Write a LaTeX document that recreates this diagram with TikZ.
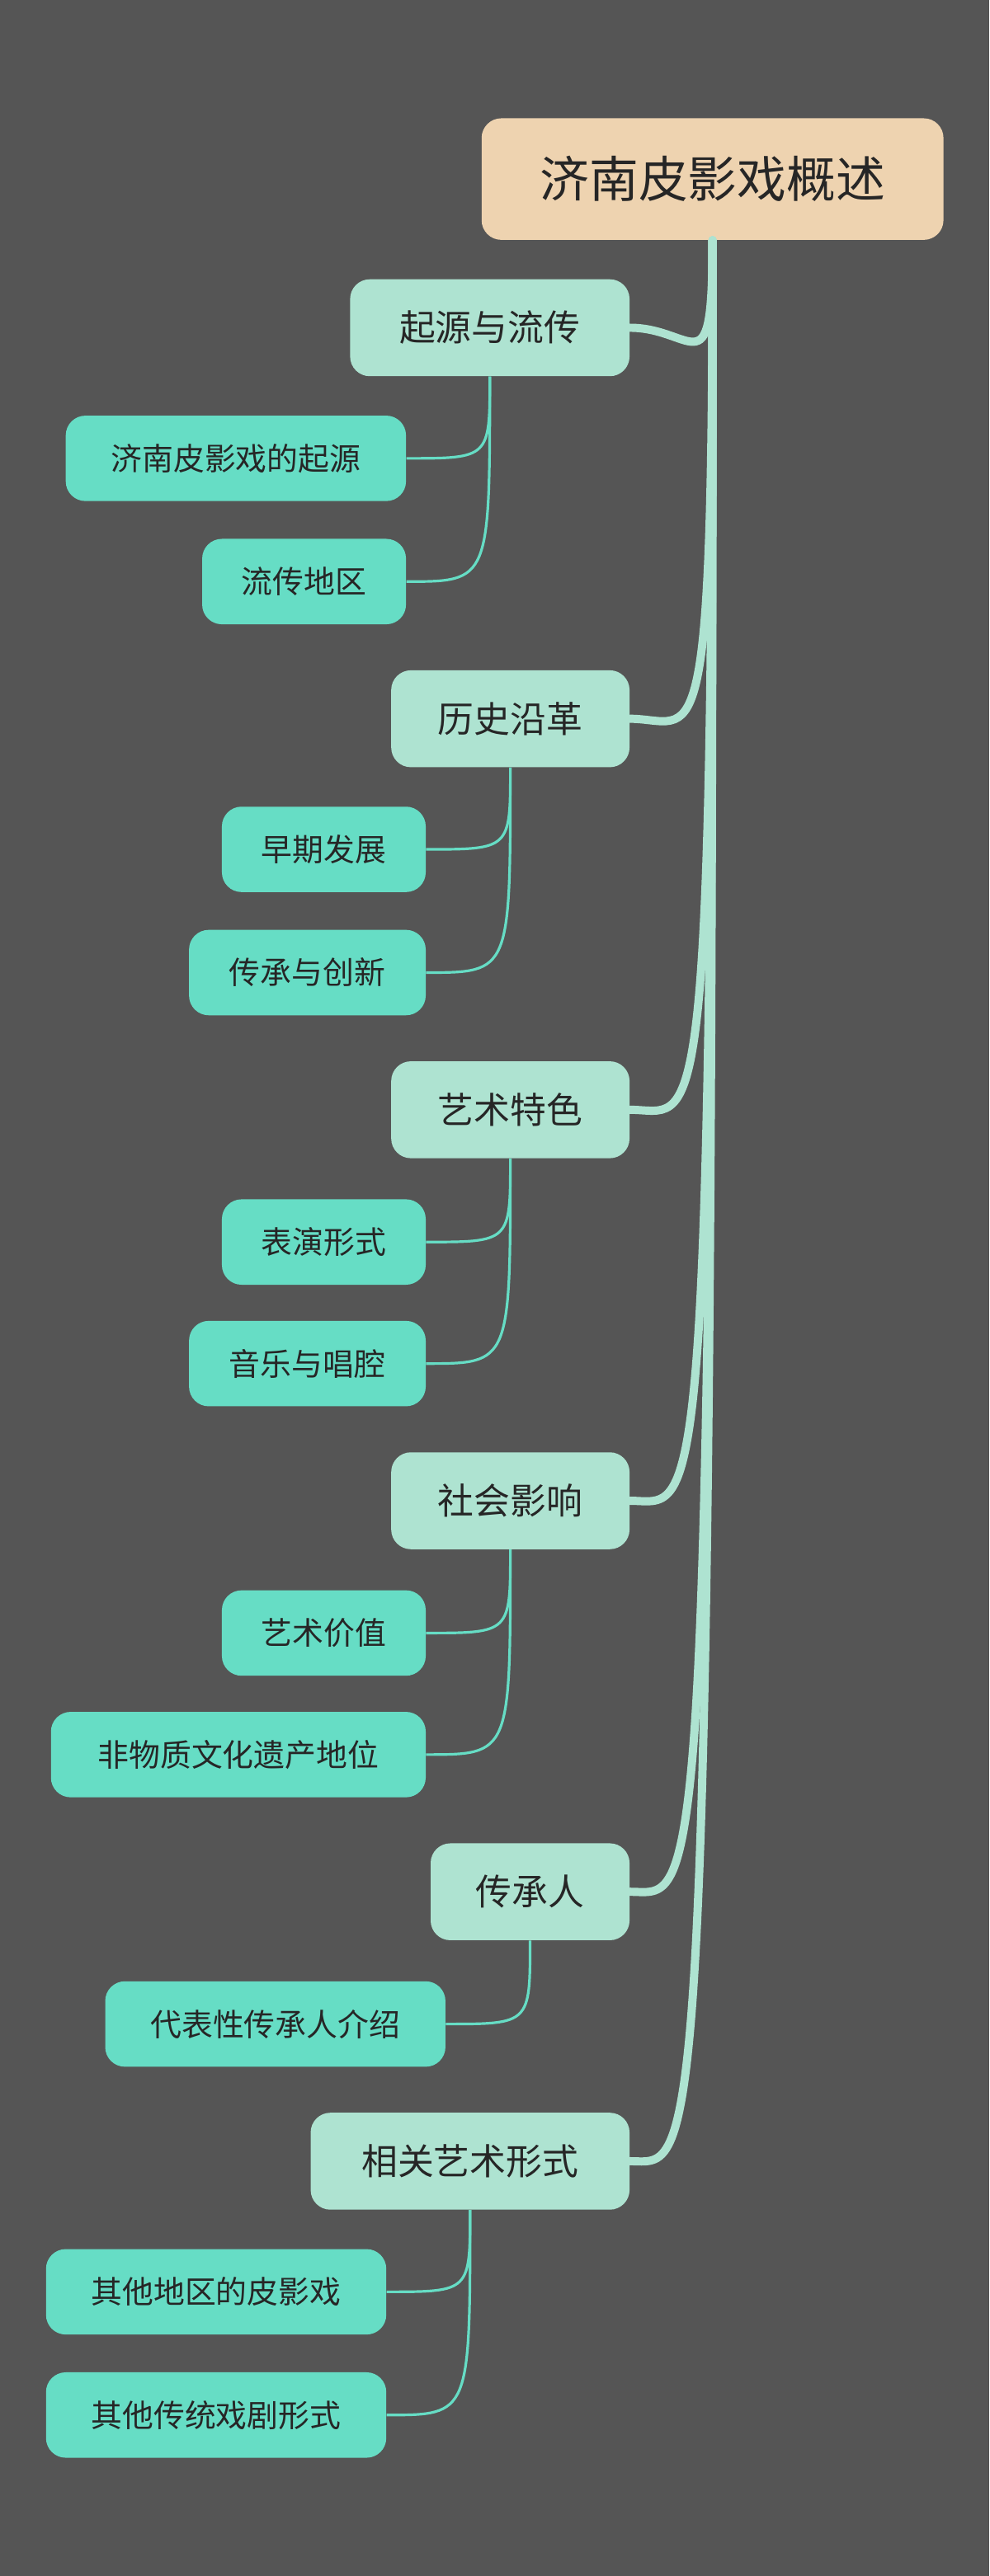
\documentclass[tikz,border=0pt]{standalone}
\usepackage{fontspec}
\newfontfamily\cjk{Noto Sans CJK SC}
\definecolor{bg}{HTML}{555555}
\definecolor{rootc}{HTML}{EED3B0}
\definecolor{lone}{HTML}{AEE3D1}
\definecolor{ltwo}{HTML}{66DDC5}
\begin{document}
\begin{tikzpicture}[x=1pt,y=-1pt,
  box/.style={rounded corners=12pt,inner sep=0pt,text=black!85,font=\cjk},
  rootbox/.style={box,fill=rootc,font=\cjk\fontsize{30}{30}\selectfont},
  onebox/.style={box,fill=lone,font=\cjk\fontsize{22}{22}\selectfont},
  twobox/.style={box,fill=ltwo,font=\cjk\fontsize{19}{19}\selectfont},
  trunk/.style={draw=lone,line width=5pt,line cap=round},
  twig/.style={draw=ltwo,line width=1.6pt}]
\fill[bg] (0,0) rectangle (602,1568);
\useasboundingbox (0,0) rectangle (602,1568);
% root
\node[rootbox,minimum width=281pt,minimum height=74pt] (root) at (433.5,109) {济南皮影戏概述};
% level 1
\newcommand\onenode[5]{\node[onebox,minimum width=#3pt,minimum height=59pt] (#1) at (#2,#4) {#5};}
\onenode{a}{298}{170}{199.5}{起源与流传}
\onenode{b}{310.5}{145}{437.5}{历史沿革}
\onenode{c}{310.5}{145}{675.5}{艺术特色}
\onenode{d}{310.5}{145}{913.5}{社会影响}
\onenode{e}{322.5}{121}{1151.5}{传承人}
\onenode{f}{286}{194}{1315.5}{相关艺术形式}
% level 2
\newcommand\twonode[5]{\node[twobox,minimum width=#3pt,minimum height=52pt] (#1) at (#2,#4) {#5};}
\twonode{a1}{143.5}{207}{279}{济南皮影戏的起源}
\twonode{a2}{185}{124}{354}{流传地区}
\twonode{b1}{197}{124}{517}{早期发展}
\twonode{b2}{187}{144}{592}{传承与创新}
\twonode{c1}{197}{124}{756}{表演形式}
\twonode{c2}{187}{144}{830}{音乐与唱腔}
\twonode{d1}{197}{124}{994}{艺术价值}
\twonode{d2}{145}{228}{1068}{非物质文化遗产地位}
\twonode{e1}{167.5}{207}{1232}{代表性传承人介绍}
\twonode{f1}{131.5}{207}{1395}{其他地区的皮影戏}
\twonode{f2}{131.5}{207}{1470}{其他传统戏剧形式}
% trunks
\foreach \n in {a,b,c,d,e,f}{
  \path[trunk] (root.south) .. controls ([yshift=-40pt]root.south |- \n.east) and ([xshift=40pt]\n.east) .. (\n.east);
}
% twigs
\foreach \p/\c in {a/a1,a/a2,b/b1,b/b2,c/c1,c/c2,d/d1,d/d2,e/e1,f/f1,f/f2}{
  \path[twig] (\p.south) .. controls (\p.south |- \c.east) .. (\c.east);
}
\end{tikzpicture}
\end{document}
